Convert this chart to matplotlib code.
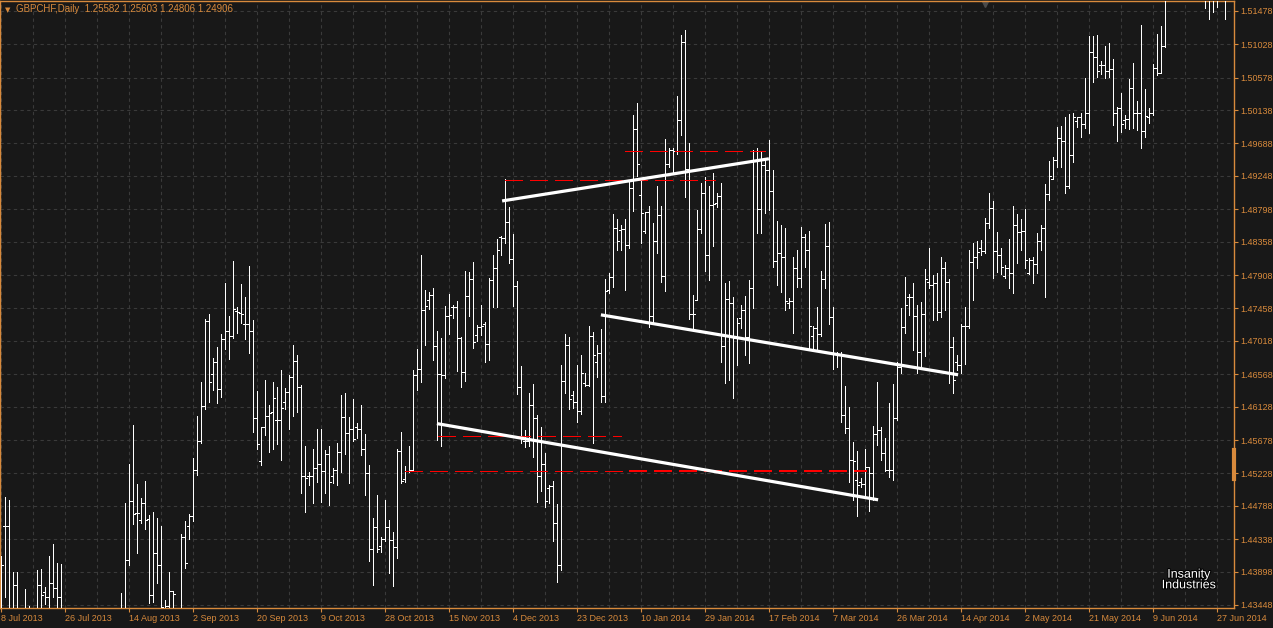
import numpy as np
import pandas as pd
import matplotlib
matplotlib.use("Agg")
import matplotlib.pyplot as plt
from matplotlib.collections import LineCollection
import matplotlib.patheffects as pe

N = np.nan
B = 1.4320   # price is off the bottom of the window
A = 1.5190   # price is off the top of the window

# daily GBPCHF bars, 8 Jul 2013 onwards (Sunday bars included)
opens = [
    B, 1.4452, 1.4452, B, 1.4372, N, B, B, N, B,
    1.4372, 1.4362, 1.4356, 1.4375, 1.4368, 1.4356, N, N, N, N,
    N, N, N, N, N, N, N, N, N, N,
    B, B, 1.4406, 1.4485, 1.4469, 1.4460, 1.4483, 1.4461, 1.4358, 1.4415,
    1.4399, B, 1.4343, 1.4364, N, B, 1.4437, 1.4452, 1.4465, 1.4527,
    1.4566, 1.4614, 1.4729, 1.4657, 1.4673, 1.4637, 1.4704, 1.4715, 1.4708, 1.4742,
    1.4740, 1.4725, 1.4725, 1.4715, 1.4598, 1.4539, 1.4585, 1.4600, 1.4606, 1.4595,
    1.4595, 1.4619, 1.4633, 1.4653, 1.4675, 1.4640, 1.4519, 1.4519, 1.4519, 1.4530,
    1.4535, 1.4526, 1.4549, 1.4519, 1.4527, 1.4552, 1.4599, 1.4577, 1.4583, 1.4585,
    1.4583, 1.4556, 1.4523, 1.4420, 1.4450, 1.4425, 1.4434, 1.4450, 1.4433, 1.4423,
    1.4553, 1.4515, 1.4526, 1.4527, 1.4656, 1.4664, 1.4744, 1.4757, 1.4764, 1.4695,
    1.4657, 1.4656, 1.4736, 1.4748, 1.4748, 1.4706, 1.4660, 1.4763, 1.4786, 1.4710,
    1.4721, 1.4725, 1.4698, 1.4784, 1.4800, 1.4842, 1.4841, 1.4863, 1.4813, 1.4776,
    1.4640, 1.4566, 1.4566, 1.4615, 1.4598, 1.4519, 1.4535, 1.4503, 1.4506, 1.4456,
    1.4399, 1.4648, 1.4696, 1.4629, 1.4619, 1.4607, 1.4645, 1.4642, 1.4708, 1.4673,
    1.4685, 1.4627, 1.4771, 1.4788, 1.4855, 1.4852, 1.4853, 1.4831, 1.4909, 1.4988,
    1.4899, 1.4850, 1.4876, 1.4736, 1.4837, 1.4872, 1.4790, 1.4941, 1.4960, 1.4958,
    1.5000, 1.5106, 1.4934, 1.4738, 1.4757, 1.4853, 1.4902, 1.4818, 1.4886, 1.4888,
    1.4898, 1.4695, 1.4758, 1.4753, 1.4706, 1.4733, 1.4744, 1.4707, 1.4773, 1.4946,
    1.4880, 1.4940, 1.4933, 1.4904, 1.4810, 1.4821, 1.4815, 1.4753, 1.4756, 1.4800,
    1.4787, 1.4842, 1.4825, 1.4708, 1.4719, 1.4711, 1.4786, 1.4830, 1.4734, 1.4685,
    1.4683, 1.4602, 1.4584, 1.4541, 1.4514, 1.4511, 1.4508, 1.4531, 1.4523, 1.4576,
    1.4581, 1.4550, 1.4527, 1.4527, 1.4598, 1.4667, 1.4721, 1.4761, 1.4761, 1.4736,
    1.4687, 1.4738, 1.4781, 1.4777, 1.4780, 1.4741, 1.4800, 1.4781, 1.4694, 1.4673,
    1.4669, 1.4722, 1.4722, 1.4809, 1.4815, 1.4827, 1.4824, 1.4861, 1.4882, 1.4824,
    1.4818, 1.4790, 1.4800, 1.4794, 1.4859, 1.4849, 1.4850, 1.4794, 1.4811, 1.4806,
    1.4837, 1.4855, 1.4900, 1.4921, 1.4946, 1.4976, 1.4972, 1.4911, 1.4953, 1.4999,
    1.5005, 1.4995, 1.5010, 1.5092, 1.5086, 1.5075, 1.5075, 1.5067, 1.5069, 1.5010,
    1.5017, 1.5000, 1.5002, 1.5044, 1.5010, 1.5010, 1.4986, 1.5005, 1.5010, 1.5071,
    1.5064, 1.5100, N, N, N, N, N, N, N, N,
    N, A, A, A, A, N, A,
]
highs = [
    1.4411, 1.4491, 1.4487, 1.4389, 1.4389, N, 1.4366, 1.4343, N, 1.4392,
    1.4393, 1.4369, 1.4411, 1.4427, 1.4402, 1.4400, N, N, N, N,
    N, N, N, N, N, N, N, N, N, N,
    1.4361, 1.4483, 1.4535, 1.4588, 1.4508, 1.4489, 1.4512, 1.4466, 1.4471, 1.4462,
    1.4452, 1.4352, 1.4389, 1.4364, N, 1.4441, 1.4458, 1.4468, 1.4544, 1.4600,
    1.4646, 1.4731, 1.4738, 1.4679, 1.4694, 1.4711, 1.4780, 1.4736, 1.4810, 1.4748,
    1.4779, 1.4761, 1.4803, 1.4730, 1.4634, 1.4585, 1.4649, 1.4615, 1.4646, 1.4640,
    1.4663, 1.4638, 1.4656, 1.4696, 1.4683, 1.4642, 1.4560, 1.4525, 1.4556, 1.4583,
    1.4583, 1.4554, 1.4560, 1.4530, 1.4564, 1.4629, 1.4631, 1.4599, 1.4623, 1.4591,
    1.4615, 1.4576, 1.4534, 1.4462, 1.4493, 1.4437, 1.4487, 1.4460, 1.4444, 1.4556,
    1.4579, 1.4533, 1.4560, 1.4663, 1.4691, 1.4818, 1.4771, 1.4768, 1.4773, 1.4715,
    1.4706, 1.4749, 1.4765, 1.4750, 1.4756, 1.4707, 1.4796, 1.4795, 1.4809, 1.4723,
    1.4750, 1.4727, 1.4787, 1.4818, 1.4840, 1.4844, 1.4921, 1.4883, 1.4846, 1.4783,
    1.4668, 1.4581, 1.4631, 1.4644, 1.4602, 1.4585, 1.4550, 1.4507, 1.4512, 1.4481,
    1.4669, 1.4711, 1.4707, 1.4634, 1.4669, 1.4683, 1.4658, 1.4722, 1.4714, 1.4696,
    1.4718, 1.4786, 1.4794, 1.4873, 1.4867, 1.4859, 1.4867, 1.4918, 1.5007, 1.5023,
    1.4922, 1.4876, 1.4884, 1.4861, 1.4911, 1.4884, 1.4975, 1.4963, 1.4963, 1.5033,
    1.5115, 1.5122, 1.4969, 1.4764, 1.4879, 1.4915, 1.4923, 1.4911, 1.4929, 1.4902,
    1.4915, 1.4780, 1.4783, 1.4761, 1.4733, 1.4750, 1.4763, 1.4784, 1.4960, 1.4963,
    1.4957, 1.4946, 1.4973, 1.4933, 1.4864, 1.4859, 1.4855, 1.4760, 1.4815, 1.4825,
    1.4856, 1.4846, 1.4850, 1.4722, 1.4748, 1.4796, 1.4860, 1.4863, 1.4748, 1.4687,
    1.4687, 1.4641, 1.4612, 1.4565, 1.4553, 1.4517, 1.4556, 1.4531, 1.4587, 1.4646,
    1.4585, 1.4571, 1.4618, 1.4644, 1.4673, 1.4746, 1.4788, 1.4765, 1.4780, 1.4750,
    1.4754, 1.4799, 1.4827, 1.4791, 1.4794, 1.4815, 1.4809, 1.4786, 1.4707, 1.4683,
    1.4725, 1.4748, 1.4825, 1.4834, 1.4837, 1.4838, 1.4868, 1.4902, 1.4891, 1.4849,
    1.4827, 1.4804, 1.4840, 1.4884, 1.4873, 1.4867, 1.4880, 1.4814, 1.4815, 1.4848,
    1.4859, 1.4914, 1.4945, 1.4950, 1.4991, 1.4992, 1.5005, 1.5009, 1.5010, 1.5005,
    1.5010, 1.5057, 1.5114, 1.5114, 1.5115, 1.5080, 1.5100, 1.5104, 1.5083, 1.5018,
    1.5037, 1.5007, 1.5056, 1.5078, 1.5026, 1.5129, 1.5042, 1.5017, 1.5076, 1.5117,
    1.5128, A, N, N, N, N, N, N, N, N,
    N, A, A, A, A, N, A,
]
lows = [
    B, 1.4356, B, B, B, N, B, B, N, B,
    B, 1.4346, B, 1.4356, B, B, N, N, N, N,
    N, N, N, N, N, N, N, N, N, N,
    B, B, 1.4399, 1.4454, 1.4415, 1.4456, 1.4448, 1.4347, 1.4349, 1.4375,
    B, B, B, B, N, B, 1.4395, 1.4434, 1.4458, 1.4521,
    1.4564, 1.4610, 1.4619, 1.4635, 1.4618, 1.4626, 1.4691, 1.4677, 1.4706, 1.4712,
    1.4726, 1.4704, 1.4685, 1.4579, 1.4556, 1.4534, 1.4575, 1.4552, 1.4556, 1.4562,
    1.4541, 1.4610, 1.4583, 1.4600, 1.4606, 1.4496, 1.4471, 1.4507, 1.4483, 1.4511,
    1.4484, 1.4496, 1.4480, 1.4510, 1.4507, 1.4525, 1.4549, 1.4510, 1.4566, 1.4571,
    1.4548, 1.4493, 1.4404, 1.4372, 1.4416, 1.4416, 1.4431, 1.4388, 1.4371, 1.4408,
    1.4510, 1.4511, 1.4525, 1.4527, 1.4635, 1.4646, 1.4696, 1.4745, 1.4676, 1.4568,
    1.4560, 1.4652, 1.4711, 1.4733, 1.4661, 1.4640, 1.4648, 1.4736, 1.4692, 1.4702,
    1.4710, 1.4673, 1.4676, 1.4748, 1.4748, 1.4818, 1.4834, 1.4807, 1.4749, 1.4630,
    1.4564, 1.4558, 1.4560, 1.4545, 1.4484, 1.4499, 1.4477, 1.4483, 1.4431, 1.4376,
    1.4392, 1.4631, 1.4610, 1.4611, 1.4592, 1.4603, 1.4641, 1.4641, 1.4564, 1.4653,
    1.4619, 1.4619, 1.4767, 1.4775, 1.4825, 1.4825, 1.4771, 1.4827, 1.4877, 1.4925,
    1.4834, 1.4848, 1.4721, 1.4726, 1.4821, 1.4781, 1.4769, 1.4937, 1.4929, 1.4955,
    1.4980, 1.4896, 1.4731, 1.4718, 1.4757, 1.4848, 1.4796, 1.4784, 1.4830, 1.4883,
    1.4673, 1.4645, 1.4649, 1.4625, 1.4669, 1.4719, 1.4683, 1.4672, 1.4746, 1.4848,
    1.4848, 1.4875, 1.4879, 1.4802, 1.4777, 1.4768, 1.4744, 1.4746, 1.4712, 1.4775,
    1.4775, 1.4802, 1.4691, 1.4692, 1.4690, 1.4708, 1.4773, 1.4725, 1.4664, 1.4667,
    1.4592, 1.4577, 1.4511, 1.4487, 1.4465, 1.4504, 1.4491, 1.4472, 1.4487, 1.4561,
    1.4541, 1.4526, 1.4518, 1.4514, 1.4595, 1.4658, 1.4712, 1.4737, 1.4690, 1.4658,
    1.4667, 1.4681, 1.4773, 1.4730, 1.4730, 1.4734, 1.4744, 1.4645, 1.4631, 1.4663,
    1.4658, 1.4671, 1.4719, 1.4757, 1.4800, 1.4818, 1.4821, 1.4855, 1.4787, 1.4795,
    1.4792, 1.4787, 1.4773, 1.4767, 1.4807, 1.4825, 1.4800, 1.4792, 1.4780, 1.4794,
    1.4825, 1.4761, 1.4892, 1.4921, 1.4937, 1.4937, 1.4902, 1.4909, 1.4944, 1.4991,
    1.4977, 1.4990, 1.4983, 1.5052, 1.5059, 1.5063, 1.5057, 1.5059, 1.4994, 1.4972,
    1.4984, 1.4990, 1.4988, 1.4990, 1.4987, 1.4963, 1.4977, 1.4996, 1.5007, 1.5061,
    1.5064, 1.5099, N, N, N, N, N, N, N, N,
    N, 1.5152, 1.5137, 1.5146, 1.5153, N, 1.5137,
]
closes = [
    1.4399, 1.4452, B, 1.4372, B, N, B, B, N, 1.4372,
    1.4358, 1.4356, 1.4375, 1.4368, 1.4356, B, N, N, N, N,
    N, N, N, N, N, N, N, N, N, N,
    B, 1.4406, 1.4485, 1.4468, 1.4469, 1.4483, 1.4460, 1.4358, 1.4415, 1.4399,
    1.4342, 1.4343, 1.4364, 1.4360, N, 1.4437, 1.4402, 1.4465, 1.4527, 1.4566,
    1.4614, 1.4729, 1.4646, 1.4673, 1.4637, 1.4704, 1.4715, 1.4708, 1.4745, 1.4741,
    1.4738, 1.4725, 1.4715, 1.4598, 1.4562, 1.4585, 1.4600, 1.4604, 1.4625, 1.4595,
    1.4611, 1.4633, 1.4653, 1.4675, 1.4640, 1.4519, 1.4517, 1.4519, 1.4530, 1.4535,
    1.4526, 1.4549, 1.4511, 1.4527, 1.4552, 1.4599, 1.4577, 1.4583, 1.4569, 1.4583,
    1.4556, 1.4523, 1.4420, 1.4450, 1.4420, 1.4434, 1.4450, 1.4433, 1.4423, 1.4553,
    1.4512, 1.4526, 1.4527, 1.4656, 1.4664, 1.4744, 1.4749, 1.4764, 1.4695, 1.4657,
    1.4656, 1.4736, 1.4737, 1.4748, 1.4706, 1.4660, 1.4763, 1.4786, 1.4700, 1.4721,
    1.4722, 1.4698, 1.4784, 1.4800, 1.4825, 1.4841, 1.4863, 1.4813, 1.4776, 1.4640,
    1.4571, 1.4566, 1.4615, 1.4598, 1.4519, 1.4535, 1.4485, 1.4506, 1.4456, 1.4399,
    1.4648, 1.4696, 1.4623, 1.4619, 1.4607, 1.4658, 1.4642, 1.4708, 1.4683, 1.4685,
    1.4627, 1.4769, 1.4788, 1.4855, 1.4837, 1.4853, 1.4831, 1.4909, 1.4988, 1.4941,
    1.4875, 1.4876, 1.4736, 1.4837, 1.4872, 1.4790, 1.4941, 1.4960, 1.4958, 1.5000,
    1.5106, 1.4934, 1.4738, 1.4738, 1.4853, 1.4902, 1.4818, 1.4886, 1.4887, 1.4898,
    1.4695, 1.4758, 1.4753, 1.4706, 1.4726, 1.4744, 1.4707, 1.4773, 1.4946, 1.4880,
    1.4940, 1.4933, 1.4904, 1.4810, 1.4821, 1.4815, 1.4756, 1.4756, 1.4800, 1.4787,
    1.4842, 1.4825, 1.4722, 1.4719, 1.4711, 1.4786, 1.4830, 1.4734, 1.4685, 1.4683,
    1.4602, 1.4584, 1.4541, 1.4539, 1.4507, 1.4508, 1.4531, 1.4523, 1.4576, 1.4581,
    1.4550, 1.4527, 1.4527, 1.4598, 1.4667, 1.4721, 1.4750, 1.4761, 1.4736, 1.4687,
    1.4738, 1.4786, 1.4777, 1.4780, 1.4741, 1.4800, 1.4781, 1.4694, 1.4649, 1.4669,
    1.4722, 1.4722, 1.4809, 1.4815, 1.4822, 1.4824, 1.4861, 1.4882, 1.4824, 1.4818,
    1.4802, 1.4800, 1.4794, 1.4859, 1.4849, 1.4850, 1.4811, 1.4811, 1.4806, 1.4837,
    1.4855, 1.4900, 1.4925, 1.4946, 1.4976, 1.4972, 1.4911, 1.4953, 1.5005, 1.5005,
    1.4995, 1.5010, 1.5092, 1.5086, 1.5067, 1.5075, 1.5067, 1.5069, 1.5010, 1.5017,
    1.4995, 1.5002, 1.5044, 1.5010, 1.5010, 1.4986, 1.5006, 1.5010, 1.5071, 1.5064,
    1.5100, A, N, N, N, N, N, N, N, N,
    N, A, A, A, A, N, A,
]

# drawn objects: trend lines (bar index, price) and horizontal levels
trend_lines = [
    ((125.2, 1.4891), (191.9, 1.4948)),
    ((149.9, 1.4737), (239.2, 1.4656)),
    ((108.9, 1.4590), (219.2, 1.4487)),
]
red_levels = [  # price, first bar, last bar, width in pixels
    (1.4919, 125.8, 178.5, 1),
    (1.4959, 155.9, 190.9, 1),
    (1.4573, 109.2, 154.9, 1),
    (1.4526, 101.0, 157.0, 1),
    (1.4526, 157.0, 216.4, 2),
]

price_ticks = [1.51478, 1.51028, 1.50578, 1.50138, 1.49688, 1.49248, 1.48798,
               1.48358, 1.47908, 1.47458, 1.47018, 1.46568, 1.46128, 1.45678,
               1.45228, 1.44788, 1.44338, 1.43898, 1.43448]

o = np.array(opens, float)
h = np.array(highs, float)
l = np.array(lows, float)
c = np.array(closes, float)
n = len(h)
idx = np.arange(n)
dates = pd.bdate_range("2013-07-08", periods=n, freq="C",
                       weekmask="Sun Mon Tue Wed Thu Fri")

BG = "#181818"
ORANGE = "#d88a3c"
GRID = "#3a3a3a"
PX = 0.72  # one pixel in points

fig = plt.figure(figsize=(12.73, 6.28), dpi=100, facecolor=BG)
ax = fig.add_axes([0, 20 / 628, 1234 / 1273, 607 / 628], facecolor=BG)

ok = np.isfinite(h)
segs = [[(k, l[k]), (k, h[k])] for k in idx[ok]]
segs += [[(k - 0.5, o[k]), (k, o[k])] for k in idx[ok]]
segs += [[(k, c[k]), (k + 0.5, c[k])] for k in idx[ok]]
ax.add_collection(LineCollection(segs, colors="white", linewidths=PX,
                                 antialiased=False, zorder=3))

for (x0, y0), (x1, y1) in trend_lines:
    ax.plot([x0, x1], [y0, y1], color="white", lw=2.3, solid_capstyle="butt",
            zorder=5)
for p, x0, x1, w in red_levels:
    ax.plot([x0, x1], [p, p], color="#ff0000", lw=PX * w,
            dashes=(17 / w, 7 / w), antialiased=False, zorder=4)

ax.set_xlim(-0.325, 308.175)
ax.set_ylim(1.43407, 1.51613)

ax.set_xticks(idx[::16])
ax.set_xticklabels([f"{d.day} {d.strftime('%b %Y')}" for d in dates[::16]],
                   ha="left")
ax.set_xticks(idx[::8], minor=True)
ax.yaxis.tick_right()
ax.set_yticks(price_ticks)
ax.set_yticklabels([f"{p:.5f}" for p in price_ticks])

ax.grid(True, which="both", color=GRID, lw=0.8, ls=(0, (3, 3)))
ax.tick_params(axis="both", which="major", colors=ORANGE, labelsize=6.5,
               length=3, width=0.8, pad=1.5)
ax.tick_params(axis="x", which="minor", length=0)
for lab in ax.get_xticklabels() + ax.get_yticklabels():
    lab.set_fontfamily("Liberation Sans")
for s in ax.spines.values():
    s.set_color(ORANGE)
    s.set_linewidth(1.0)

# MT4 decorations
fig.text(5 / 1273, 1 - 10 / 628, "\u25BC", color=ORANGE, fontsize=5,
         va="center", ha="left", family="DejaVu Sans")
fig.text(16 / 1273, 1 - 9 / 628, "GBPCHF,Daily  1.25582 1.25603 1.24806 1.24906",
         color=ORANGE, fontsize=7, va="center", ha="left",
         family="Liberation Sans")
ax.plot([0.7985], [0.995], marker="v", color="#4a4a4a", ms=5,
        transform=ax.transAxes, clip_on=False)
ax.plot([1, 1], [1.4515, 1.4554], color=ORANGE, lw=3,
        transform=ax.get_yaxis_transform(), clip_on=False, zorder=6)
fig.text(1189 / 1273, 1 - 580 / 628, "Insanity\nIndustries", color="white",
         fontsize=9, ha="center", va="center", linespacing=0.85,
         family="Liberation Sans",
         path_effects=[pe.withStroke(linewidth=1.5, foreground="black")])

fig.savefig("out.png", dpi=100, facecolor=BG)
